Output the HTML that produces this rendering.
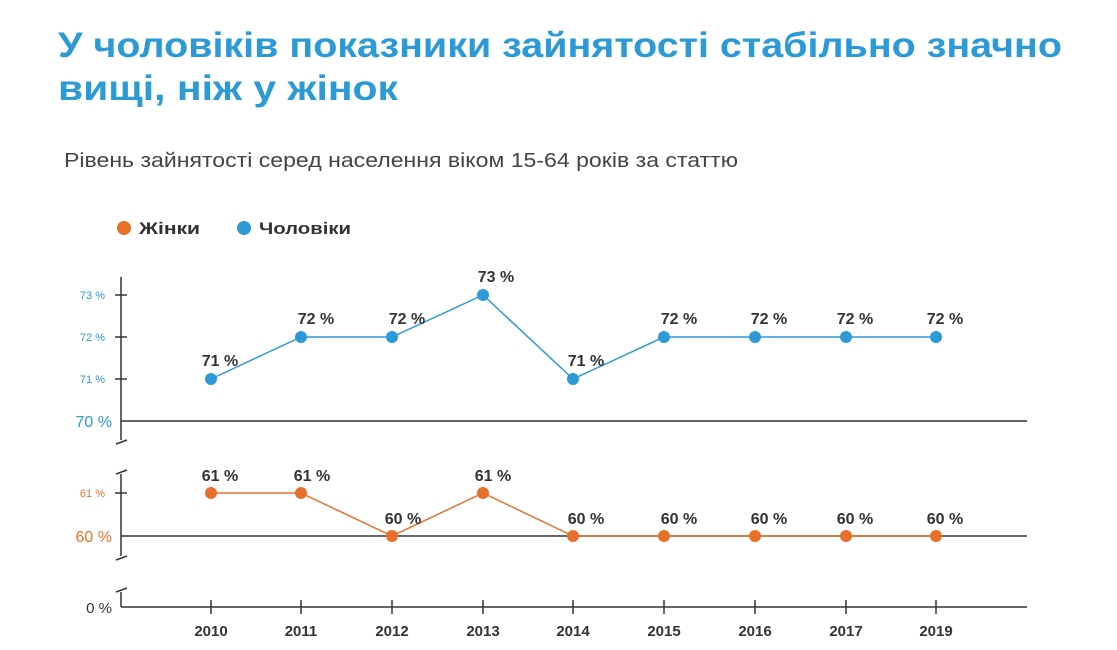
<!DOCTYPE html>
<html><head><meta charset="utf-8"><style>
body{margin:0;background:#fff;width:1117px;height:645px;overflow:hidden;font-family:"Liberation Sans","DejaVu Sans",sans-serif}
</style></head><body>
<svg width="1117" height="645" xmlns="http://www.w3.org/2000/svg" font-family="Liberation Sans, DejaVu Sans, sans-serif">
<text x="58" y="57" font-size="35" font-weight="bold" fill="#2b9ad6" textLength="1004" lengthAdjust="spacingAndGlyphs">У чоловіків показники зайнятості стабільно значно</text>
<text x="58" y="100" font-size="35" font-weight="bold" fill="#2b9ad6" textLength="340" lengthAdjust="spacingAndGlyphs">вищі, ніж у жінок</text>
<text x="64" y="167" font-size="20" fill="#444" textLength="674" lengthAdjust="spacingAndGlyphs">Рівень зайнятості серед населення віком 15-64 років за статтю</text>
<circle cx="124" cy="228" r="7" fill="#e8702a"/><text x="139" y="234" font-size="17" font-weight="bold" fill="#333" textLength="61" lengthAdjust="spacingAndGlyphs">Жінки</text>
<circle cx="244" cy="228" r="7" fill="#2b9ad6"/><text x="259" y="234" font-size="17" font-weight="bold" fill="#333" textLength="92" lengthAdjust="spacingAndGlyphs">Чоловіки</text>
<g stroke="#333" stroke-width="1.5" fill="none">
<line x1="121" y1="277" x2="121" y2="440"/><path d="M116 444 L127 440"/>
<line x1="121" y1="474" x2="121" y2="556"/><path d="M116 474 L127 470"/><path d="M116 560 L127 556"/>
<line x1="121" y1="592" x2="121" y2="607"/><path d="M116 592 L127 588"/>
<line x1="121" y1="421" x2="1027" y2="421"/>
<line x1="121" y1="536" x2="1027" y2="536"/>
<line x1="121" y1="607" x2="1027" y2="607"/>
<line x1="115" y1="295" x2="127" y2="295"/><line x1="115" y1="337" x2="127" y2="337"/><line x1="115" y1="379" x2="127" y2="379"/>
<line x1="115" y1="493" x2="127" y2="493"/>
<g>
<line x1="211" y1="600" x2="211" y2="614"/><line x1="301" y1="600" x2="301" y2="614"/><line x1="392" y1="600" x2="392" y2="614"/><line x1="483" y1="600" x2="483" y2="614"/><line x1="573" y1="600" x2="573" y2="614"/><line x1="664" y1="600" x2="664" y2="614"/><line x1="755" y1="600" x2="755" y2="614"/><line x1="846" y1="600" x2="846" y2="614"/><line x1="936" y1="600" x2="936" y2="614"/>
</g></g>
<g font-size="11" fill="#2b9ad6" text-anchor="end"><text x="105" y="299">73 %</text><text x="105" y="341">72 %</text><text x="105" y="383">71 %</text></g>
<text x="112" y="427" font-size="16" fill="#2b9ad6" text-anchor="end">70 %</text>
<text x="105" y="497" font-size="11" fill="#e8702a" text-anchor="end">61 %</text>
<text x="112" y="542" font-size="16" fill="#e8702a" text-anchor="end">60 %</text>
<text x="112" y="613" font-size="15" fill="#333" text-anchor="end">0 %</text>
<g font-size="15" font-weight="bold" fill="#333" text-anchor="middle">
<text x="211" y="636">2010</text><text x="301" y="636">2011</text><text x="392" y="636">2012</text><text x="483" y="636">2013</text><text x="573" y="636">2014</text><text x="664" y="636">2015</text><text x="755" y="636">2016</text><text x="846" y="636">2017</text><text x="936" y="636">2019</text>
</g>
<polyline points="211,379 301,337 392,337 483,295 573,379 664,337 755,337 846,337 936,337" fill="none" stroke="#2b9ad6" stroke-width="1.5"/>
<g fill="#2b9ad6"><circle cx="211" cy="379" r="6"/><circle cx="301" cy="337" r="6"/><circle cx="392" cy="337" r="6"/><circle cx="483" cy="295" r="6"/><circle cx="573" cy="379" r="6"/><circle cx="664" cy="337" r="6"/><circle cx="755" cy="337" r="6"/><circle cx="846" cy="337" r="6"/><circle cx="936" cy="337" r="6"/></g>
<polyline points="211,493 301,493 392,536 483,493 573,536 664,536 755,536 846,536 936,536" fill="none" stroke="#e8702a" stroke-width="1.5"/>
<g fill="#e8702a"><circle cx="211" cy="493" r="6"/><circle cx="301" cy="493" r="6"/><circle cx="392" cy="536" r="6"/><circle cx="483" cy="493" r="6"/><circle cx="573" cy="536" r="6"/><circle cx="664" cy="536" r="6"/><circle cx="755" cy="536" r="6"/><circle cx="846" cy="536" r="6"/><circle cx="936" cy="536" r="6"/></g>
<g font-size="16" font-weight="bold" fill="#333" text-anchor="middle">
<text x="220" y="366">71 %</text><text x="316" y="324">72 %</text><text x="407" y="324">72 %</text><text x="496" y="282">73 %</text><text x="586" y="366">71 %</text><text x="679" y="324">72 %</text><text x="769" y="324">72 %</text><text x="855" y="324">72 %</text><text x="945" y="324">72 %</text>
<text x="220" y="481">61 %</text><text x="312" y="481">61 %</text><text x="403" y="524">60 %</text><text x="493" y="481">61 %</text><text x="586" y="524">60 %</text><text x="679" y="524">60 %</text><text x="769" y="524">60 %</text><text x="855" y="524">60 %</text><text x="945" y="524">60 %</text>
</g>
</svg>
</body></html>
